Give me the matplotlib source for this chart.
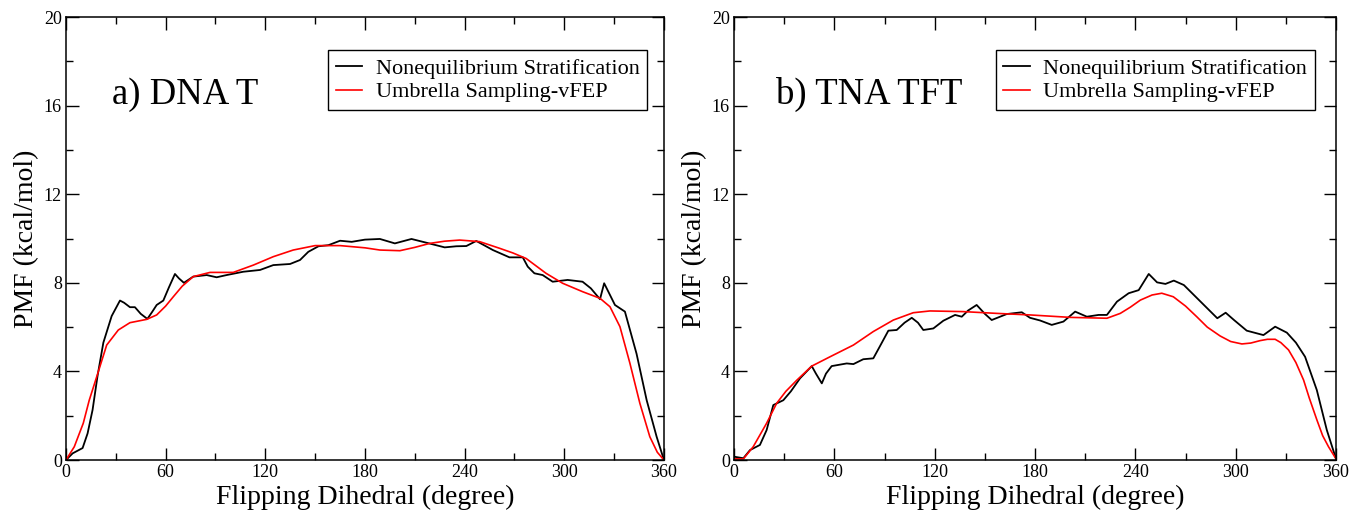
"""PMF profiles along the flipping dihedral for DNA T and TNA TFT."""

import matplotlib
matplotlib.use("Agg")
import matplotlib.pyplot as plt
from matplotlib.ticker import MultipleLocator

plt.rcParams["font.family"] = ["Liberation Serif", "DejaVu Serif"]

# a) DNA T
dna_nes_x = [0, 4, 10, 13, 16, 19, 22.5, 27.5, 32.5, 35, 38.5, 41.5, 45, 49, 52, 54.6,
             58.6, 62, 65.6, 68, 71, 76.6, 84.7, 90.7, 96.7, 106.7, 116.8, 124.8, 134.9,
             140.9, 145.9, 152, 158, 165, 172, 180, 189, 198, 208, 217, 228, 235, 241,
             247, 257, 267, 275, 278, 282, 287, 293, 302, 311, 316, 321.5, 324, 330.5,
             336.5, 343.5, 349.6, 355.6, 360]
dna_nes_y = [0, 0.3, 0.54, 1.2, 2.26, 3.8, 5.3, 6.5, 7.2, 7.1, 6.9, 6.9, 6.6, 6.37, 6.7, 7.0,
             7.2, 7.8, 8.4, 8.2, 8.0, 8.28, 8.35, 8.25, 8.35, 8.5, 8.58, 8.8, 8.85,
             9.03, 9.4, 9.65, 9.7, 9.9, 9.85, 9.95, 9.98, 9.78, 9.98, 9.81, 9.6, 9.65, 9.66,
             9.89, 9.48, 9.15, 9.15, 8.73, 8.43, 8.35, 8.05, 8.13, 8.05, 7.75, 7.26, 7.98, 7.0,
             6.7, 4.8, 2.7, 1.05, 0]
dna_us_x = [0, 5, 10.4, 14, 18.5, 24.5, 31.5, 38.5, 48.6, 54.6, 60, 64.6, 70, 76.6, 86.7,
            100.7, 112.8, 124.8, 136.8, 150, 165, 180, 189, 201, 210, 219, 228, 237, 249,
            261, 269, 277, 289, 299, 311, 321.5, 327.5, 333.5, 339.5, 345.5, 351.5, 356, 360]
dna_us_y = [0, 0.6, 1.66, 2.7, 3.76, 5.19, 5.87, 6.2, 6.35, 6.55, 6.95, 7.37, 7.85, 8.28, 8.47,
            8.47, 8.8, 9.18, 9.48, 9.68, 9.68, 9.58, 9.48, 9.45, 9.6, 9.78, 9.88, 9.93, 9.86,
            9.56, 9.35, 9.1, 8.43, 7.98, 7.6, 7.3, 6.92, 6.02, 4.37, 2.56, 1.05, 0.35, 0]

# b) TNA TFT
tna_nes_x = [0, 5.6, 9.6, 15.5, 19.5, 23.5, 29.5, 34, 39.5, 46.5, 49, 52.5, 55, 58.4, 67.4,
             71.4, 77.3, 83.3, 87, 92.3, 97.3, 102, 106.3, 110, 113.2, 119.2, 125.2, 132.2,
             136.2, 140, 145.1, 150, 154.1, 163.1, 172.1, 177, 183, 190, 197, 204, 211, 218,
             223, 229, 236, 242, 248, 253, 258, 263, 269, 277, 283, 289, 294, 299, 306.6,
             316.6, 323.6, 330.6, 336, 341.5, 348.5, 354.5, 360]
tna_nes_y = [0.15, 0.08, 0.45, 0.68, 1.35, 2.48, 2.7, 3.1, 3.69, 4.24, 3.9, 3.46, 3.9, 4.24, 4.36,
             4.33, 4.55, 4.59, 5.1, 5.84, 5.87, 6.2, 6.42, 6.2, 5.87, 5.94, 6.29, 6.55,
             6.47, 6.75, 7.0, 6.6, 6.32, 6.59, 6.67, 6.42, 6.3, 6.1, 6.25, 6.7, 6.47, 6.55,
             6.55, 7.15, 7.53, 7.67, 8.4, 8.02, 7.95, 8.1, 7.9, 7.3, 6.85, 6.4, 6.65, 6.32, 5.84,
             5.64, 6.02, 5.75, 5.3, 4.66, 3.16, 1.35, 0.05]
tna_us_x = [0, 5.6, 11.5, 19.5, 25.5, 31, 37.5, 46.5, 57.4, 71.4, 83.3, 95.3, 107.2, 117.2,
            137.1, 157.1, 177, 201, 223, 231, 237, 243, 250, 255.8, 262.7, 270, 276.7, 283,
            290.7, 297, 303.7, 309, 314.6, 319, 323.6, 327, 331.6, 336, 340.6, 344, 348.6,
            352, 355.5, 360]
tna_us_y = [0.05, 0.05, 0.6, 1.66, 2.56, 3.1, 3.6, 4.24, 4.66, 5.19, 5.8, 6.32, 6.65, 6.73,
            6.7, 6.62, 6.55, 6.44, 6.4, 6.62, 6.9, 7.22, 7.45, 7.53, 7.37, 6.95, 6.47, 6.0,
            5.6, 5.35, 5.24, 5.28, 5.39, 5.45, 5.45, 5.3, 4.97, 4.4, 3.61, 2.8, 1.8,
            1.1, 0.6, 0.05]

panels = [
    ("a) DNA T", 28, dna_nes_x, dna_nes_y, dna_us_x, dna_us_y),
    ("b) TNA TFT", 25, tna_nes_x, tna_nes_y, tna_us_x, tna_us_y),
]

fig = plt.figure(figsize=(13.55, 5.13), dpi=100)
rects = [[0.0487, 0.1033, 0.4413, 0.8635], [0.5417, 0.1033, 0.4443, 0.8635]]
legend_anchor = [(0.972, 0.925), (0.965, 0.925)]

for rect, anchor, (title, tx, nx, ny, ux, uy) in zip(rects, legend_anchor, panels):
    ax = fig.add_axes(rect)
    ax.plot(nx, ny, color="black", lw=1.3, label="Nonequilibrium Stratification")
    ax.plot(ux, uy, color="#ff0000", lw=1.2, label="Umbrella Sampling-vFEP")
    ax.set_xlim(0, 360)
    ax.set_ylim(0, 20)
    ax.xaxis.set_major_locator(MultipleLocator(60))
    ax.xaxis.set_minor_locator(MultipleLocator(30))
    ax.yaxis.set_major_locator(MultipleLocator(4))
    ax.yaxis.set_minor_locator(MultipleLocator(2))
    ax.tick_params(which="both", direction="in", top=True, right=True,
                   labelsize=13, width=1.0, pad=3)
    ax.tick_params(which="major", length=9)
    ax.tick_params(which="minor", length=5)
    for sp in ax.spines.values():
        sp.set_linewidth(1.1)
    ax.set_xlabel("Flipping Dihedral (degree)", fontsize=20, labelpad=3)
    ax.set_ylabel("PMF (kcal/mol)", fontsize=20, labelpad=3)
    ax.text(tx, 16.1, title, fontsize=26.5)
    leg = ax.legend(loc="upper right", bbox_to_anchor=anchor, borderaxespad=0,
                    fontsize=16, fancybox=False, framealpha=1, edgecolor="black",
                    handlelength=1.2, handletextpad=0.6, borderpad=0.35,
                    labelspacing=0.15)
    leg.get_frame().set_linewidth(1.0)

fig.savefig("out.png", dpi=100)
